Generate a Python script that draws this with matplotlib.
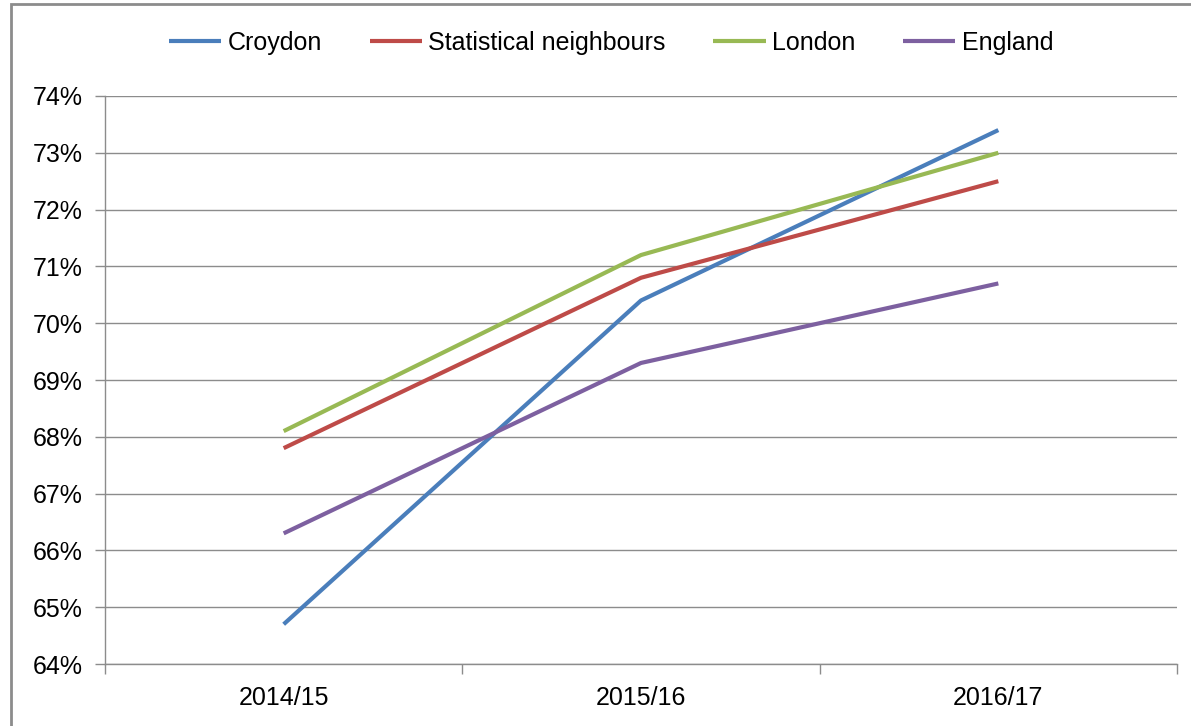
import matplotlib
matplotlib.use("Agg")
import matplotlib.pyplot as plt
from matplotlib.patches import Rectangle
from matplotlib.ticker import FuncFormatter, FixedLocator

plt.rcParams['font.family'] = ['Liberation Sans', 'DejaVu Sans']

years = ["2014/15", "2015/16", "2016/17"]
croydon = [64.7, 70.4, 73.4]
stat_neigh = [67.8, 70.8, 72.5]
london = [68.1, 71.2, 73.0]
england = [66.3, 69.3, 70.7]

series = [
    ("Croydon", croydon, "#4A7EBB"),
    ("Statistical neighbours", stat_neigh, "#BE4B48"),
    ("London", london, "#98B954"),
    ("England", england, "#7D60A0"),
]

W, H = 1191, 726
fig = plt.figure(figsize=(W / 100, H / 100), dpi=100)
ax = fig.add_axes([105 / W, 1 - 664 / H, (1177 - 105) / W, (664 - 96) / H])

x = list(range(len(years)))
for name, vals, col in series:
    ax.plot(x, vals, color=col, lw=3, label=name, solid_capstyle='butt')

ax.set_xlim(-0.5, len(years) - 0.5)
ax.set_ylim(64, 74)
ax.set_yticks(range(64, 75))
ax.yaxis.set_major_formatter(FuncFormatter(lambda v, p: f"{int(v)}%"))
ax.grid(axis='y', color='#8c8c8c', lw=1)
ax.set_axisbelow(True)

ax.set_xticks(x)
ax.set_xticklabels(years)
ax.xaxis.set_minor_locator(FixedLocator([-0.5, 0.5, 1.5, 2.5]))
ax.tick_params(axis='x', which='major', length=0, pad=16, labelsize=18)
ax.tick_params(axis='x', which='minor', length=7, color='#8c8c8c', width=1)
ax.tick_params(axis='y', length=7, color='#8c8c8c', width=1, pad=9, labelsize=18)

for s in ['top', 'right']:
    ax.spines[s].set_visible(False)
for s in ['left', 'bottom']:
    ax.spines[s].set_color('#8c8c8c')
    ax.spines[s].set_linewidth(1)

fig.legend(loc='center', bbox_to_anchor=(611 / W, 1 - 43 / H), ncol=4, frameon=False,
           fontsize=18, handlelength=2.1, columnspacing=1.9, handletextpad=0.25)

fig.patches.append(Rectangle((11 / W, -0.01), 1.2, 1 - 4 / H + 0.01, transform=fig.transFigure,
                             fill=False, edgecolor='#8c8c8c', lw=2))

fig.savefig("out.png", dpi=100)
